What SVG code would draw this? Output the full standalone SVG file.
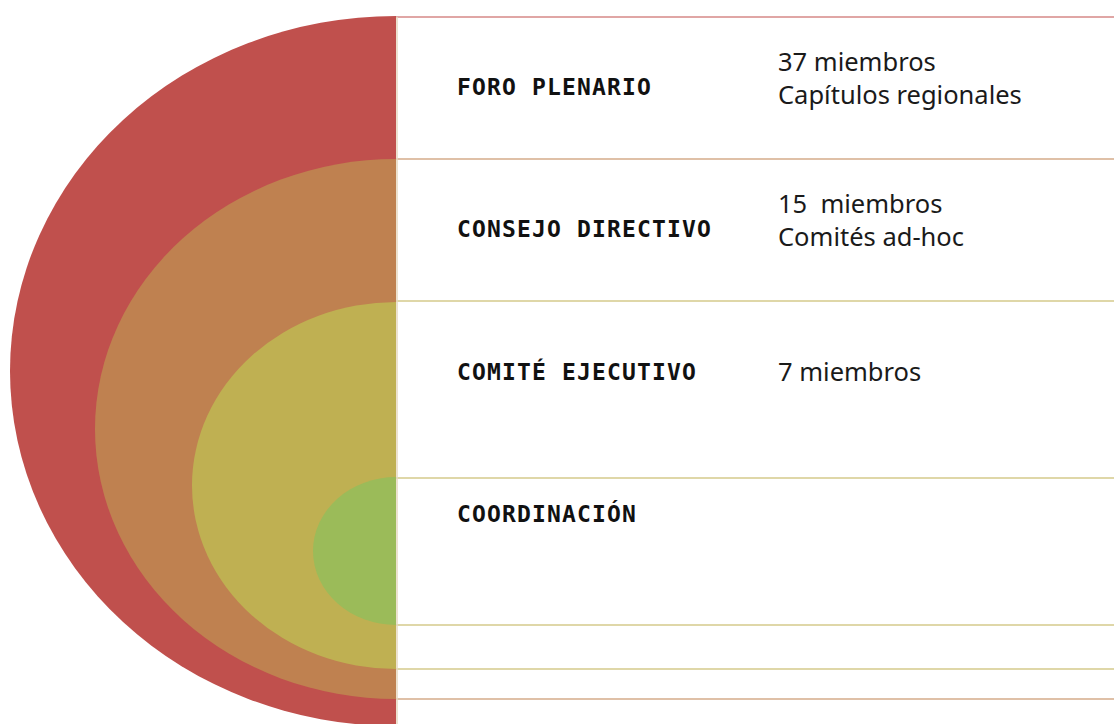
<svg xmlns="http://www.w3.org/2000/svg" width="1114" height="724" viewBox="0 0 1114 724">
  <style>
    .lbl { font-family: "DejaVu Sans Mono", "Liberation Mono", monospace; font-weight: bold; font-size: 23px; letter-spacing: 1.15px; fill: #111; }
    .txt { font-family: "Noto Sans", Lato, sans-serif; font-size: 25.5px; fill: #1a1a1a; white-space: pre; }
    .ln { stroke-width: 2; fill: none; }
  </style>
  <defs>
    <clipPath id="half"><rect x="0" y="0" width="396" height="724"/></clipPath>
  </defs>
  <rect width="1114" height="724" fill="#ffffff"/>
  <g id="foro-plenario">
    <ellipse cx="396" cy="371" rx="386" ry="355" fill="#C0504D" clip-path="url(#half)"/>
    <text class="lbl" x="457" y="95">FORO PLENARIO</text>
    <text class="txt" x="778" y="71">37 miembros</text>
    <text class="txt" x="778" y="104">Capítulos regionales</text>
  </g>
  <g id="consejo-directivo">
    <ellipse cx="396" cy="429" rx="301" ry="270" fill="#BF8150" clip-path="url(#half)"/>
    <text class="lbl" x="457" y="237">CONSEJO DIRECTIVO</text>
    <text class="txt" x="778" y="213">15  miembros</text>
    <text class="txt" x="778" y="246">Comités ad-hoc</text>
  </g>
  <g id="comite-ejecutivo">
    <ellipse cx="396" cy="485.5" rx="204" ry="183.5" fill="#BFB052" clip-path="url(#half)"/>
    <text class="lbl" x="457" y="380">COMITÉ EJECUTIVO</text>
    <text class="txt" x="778" y="381">7 miembros</text>
  </g>
  <g id="coordinacion">
    <ellipse cx="396" cy="551" rx="83" ry="74" fill="#9BBB59" clip-path="url(#half)"/>
    <text class="lbl" x="457" y="522">COORDINACIÓN</text>
  </g>
  <g id="connectors">
    <line class="ln" x1="396" y1="17" x2="1114" y2="17" stroke="#E0A6A5"/>
    <line class="ln" x1="396" y1="159" x2="1114" y2="159" stroke="#DFC0A7"/>
    <line class="ln" x1="396" y1="301" x2="1114" y2="301" stroke="#DFD7A8"/>
    <line class="ln" x1="396" y1="478" x2="1114" y2="478" stroke="#DFD7A8"/>
    <line class="ln" x1="396" y1="625" x2="1114" y2="625" stroke="#DFD7A8"/>
    <line class="ln" x1="396" y1="669" x2="1114" y2="669" stroke="#DFD7A8"/>
    <line class="ln" x1="396" y1="699" x2="1114" y2="699" stroke="#DFC0A7"/>
    <line x1="397" y1="17" x2="397" y2="724" stroke="#E6D8C0" stroke-width="1.5"/>
  </g>
</svg>
